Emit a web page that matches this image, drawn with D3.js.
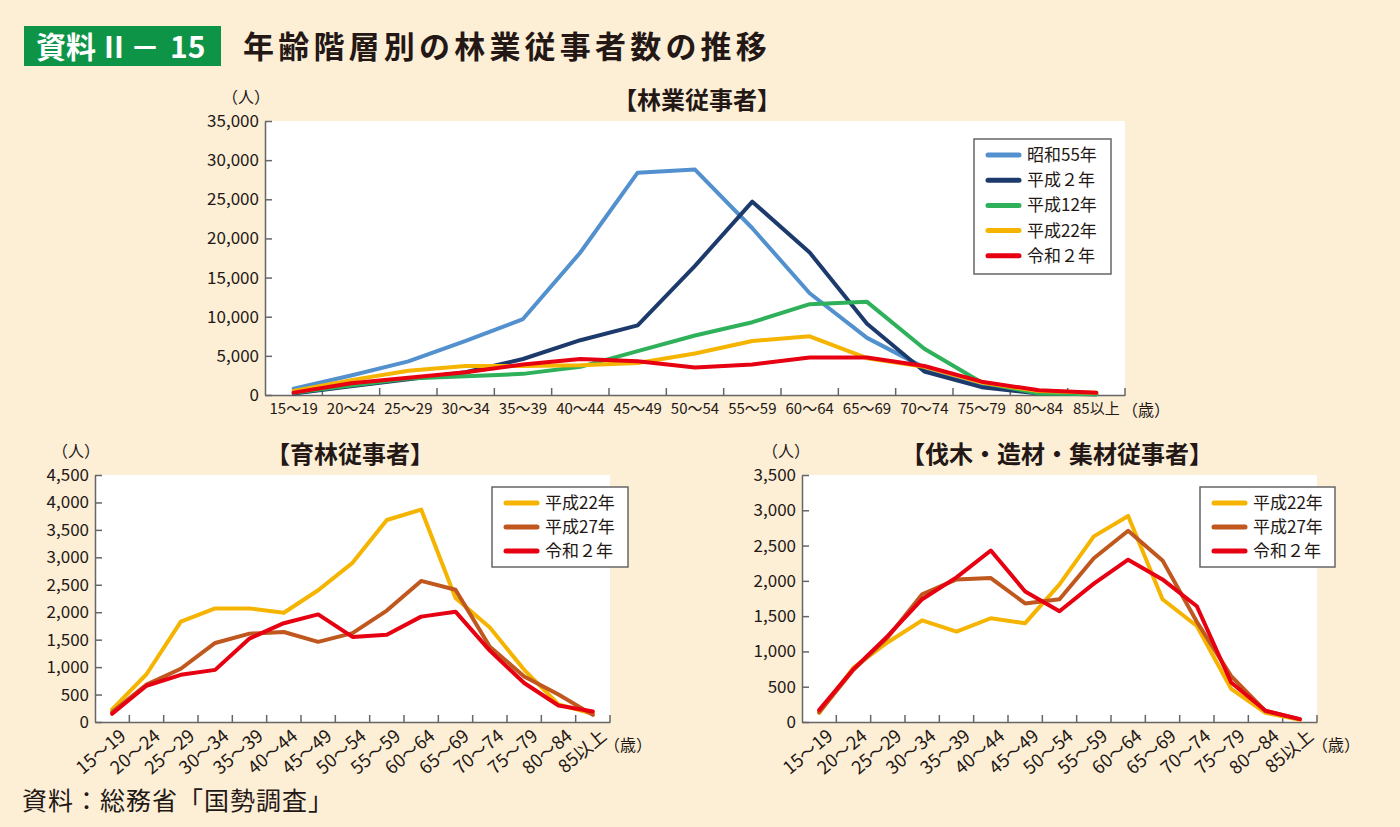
<!DOCTYPE html>
<html><head><meta charset="utf-8">
<script src="https://cdn.jsdelivr.net/npm/d3@7"></script>
<style>
html,body{margin:0;padding:0;background:#fdeed6;}
svg{display:block;font-family:"Noto Sans CJK JP","Noto Sans",sans-serif;}
</style></head>
<body><svg id="c" width="1400" height="827"></svg>
<script>
// ---- data ----
const ages = ["15～19","20～24","25～29","30～34","35～39","40～44","45～49","50～54","55～59","60～64","65～69","70～74","75～79","80～84","85以上"];
const yTicksTop = [0,5000,10000,15000,20000,25000,30000,35000];
const yTicksIkurin = [0,500,1000,1500,2000,2500,3000,3500,4000,4500];
const yTicksBatsu = [0,500,1000,1500,2000,2500,3000,3500];

// 林業従事者
const topS55 = [800,2500,4300,6900,9700,18200,28400,28800,21300,13000,7300,3500,1100,300,100];
const topH2  = [200,1100,2000,2900,4600,7000,8900,16500,24700,18200,9100,3000,1000,200,100];
const topH12 = [300,1200,2100,2400,2700,3600,5600,7600,9300,11600,11900,5900,1600,200,100];
const topH22 = [500,1900,3100,3700,3700,3800,4100,5300,6900,7500,4700,3600,1600,500,300];
const topR2  = [300,1500,2200,2900,3900,4600,4300,3500,3900,4800,4800,3700,1700,600,300];

// 育林従事者
const ikuH22 = [230,870,1830,2070,2070,1990,2400,2900,3680,3870,2260,1720,950,320,150];
const ikuH27 = [180,680,970,1440,1610,1640,1460,1620,2030,2570,2410,1370,830,500,130];
const ikuR2  = [150,660,860,950,1520,1800,1960,1550,1590,1920,2010,1300,710,300,190];

// 伐木・造材・集材従事者
const batH22 = [130,770,1130,1440,1280,1470,1400,1950,2630,2920,1740,1360,470,130,30];
const batH27 = [140,740,1200,1810,2020,2040,1680,1740,2320,2710,2290,1420,650,155,40];
const batR2  = [170,750,1220,1740,2050,2430,1850,1570,1960,2300,2020,1640,560,160,40];

const seriesTop = [
  {name:"昭和55年", values:topS55, color:"#5291cd"},
  {name:"平成２年", values:topH2,  color:"#1d3a6c"},
  {name:"平成12年", values:topH12, color:"#2fb05a"},
  {name:"平成22年", values:topH22, color:"#f5b400"},
  {name:"令和２年", values:topR2,  color:"#e60012"}
];
const seriesIku = [
  {name:"平成22年", values:ikuH22, color:"#f5b400"},
  {name:"平成27年", values:ikuH27, color:"#c0571e"},
  {name:"令和２年", values:ikuR2,  color:"#e60012"}
];
const seriesBat = [
  {name:"平成22年", values:batH22, color:"#f5b400"},
  {name:"平成27年", values:batH27, color:"#c0571e"},
  {name:"令和２年", values:batR2,  color:"#e60012"}
];

// ---- drawing ----
const svg = d3.select("#c");
const TXT = "#231815";
svg.append("rect").attr("width",1400).attr("height",827).attr("fill","#fdeed6");

// header
svg.append("rect").attr("x",24).attr("y",26).attr("width",197).attr("height",40).attr("fill","#0e9446");
const hd = svg.append("text").attr("y",58).attr("fill","#fff").attr("font-size",30).attr("font-weight","bold");
hd.append("tspan").attr("x",36).text("資料");
hd.append("tspan").attr("x",104).text("II");
hd.append("tspan").attr("x",130).text("－");
hd.append("tspan").attr("x",170).text("15");
svg.append("text").attr("x",243).attr("y",58).attr("fill",TXT).attr("font-size",31).attr("font-weight","bold")
  .attr("letter-spacing",4.2).text("年齢階層別の林業従事者数の推移");

svg.append("text").attr("x",22).attr("y",810).attr("fill",TXT).attr("font-size",25).attr("letter-spacing",1)
  .text("資料：総務省「国勢調査」");

function panel(cfg){
  const g = svg.append("g");
  const x = d3.scaleBand().domain(ages).range([cfg.x0,cfg.x1]);
  const y = d3.scaleLinear().domain([0,cfg.max]).range([cfg.yb,cfg.yt]);
  g.append("rect").attr("x",cfg.x0).attr("y",cfg.yt).attr("width",cfg.x1-cfg.x0).attr("height",cfg.yb-cfg.yt).attr("fill","#fff");

  // y axis
  const ya = g.append("g").attr("transform",`translate(${cfg.x0},0)`)
    .call(d3.axisLeft(y).tickValues(cfg.ticks).tickFormat(d3.format(",")).tickSize(-7).tickPadding(6).tickSizeOuter(0));
  ya.select(".domain").attr("stroke","#666").attr("stroke-width",1.5);
  ya.selectAll(".tick line").attr("stroke","#666").attr("stroke-width",1.5);
  ya.selectAll(".tick text").attr("font-size",17).attr("fill",TXT).attr("font-family","'Noto Sans CJK JP',sans-serif");

  // x axis
  const xa = g.append("g").attr("transform",`translate(0,${cfg.yb})`)
    .call(d3.axisBottom(x).tickSize(0).tickPadding(8).tickSizeOuter(0));
  xa.select(".domain").attr("stroke","#666").attr("stroke-width",1.5);
  const bounds = ages.map(a=>x(a)).concat([cfg.x1]).slice(1);
  xa.selectAll(".bnd").data(bounds).enter().append("line").attr("class","bnd")
    .attr("x1",d=>d).attr("x2",d=>d).attr("y1",0).attr("y2",-7).attr("stroke","#666").attr("stroke-width",1.5);
  const lbl = xa.selectAll(".tick text").attr("fill",TXT).attr("font-size",cfg.rot?18:15).attr("font-family","'Noto Sans CJK JP',sans-serif");
  if(cfg.rot){
    lbl.attr("text-anchor","end").attr("dy",0).attr("y",0)
      .attr("transform","translate(15,16) rotate(-40)");
  }

  // lines
  const line = d3.line().x((d,i)=>x(ages[i])+x.bandwidth()/2).y(d=>y(d));
  cfg.series.forEach(s=>{
    g.append("path").datum(s.values).attr("d",line).attr("fill","none")
      .attr("stroke",s.color).attr("stroke-width",cfg.sw).attr("stroke-linejoin","round").attr("stroke-linecap","round");
  });

  // legend
  const L = cfg.leg;
  g.append("rect").attr("x",L.x).attr("y",L.y).attr("width",L.w).attr("height",L.h)
    .attr("fill","#fff").attr("stroke","#666").attr("stroke-width",1.5);
  cfg.series.forEach((s,i)=>{
    const yy = L.y + L.first + i*L.step;
    g.append("line").attr("x1",L.x+14).attr("x2",L.x+45).attr("y1",yy).attr("y2",yy)
      .attr("stroke",s.color).attr("stroke-width",5).attr("stroke-linecap","round");
    g.append("text").attr("x",L.x+53).attr("y",yy).attr("dy","0.35em").attr("font-size",17).attr("fill",TXT).text(s.name);
  });

  // labels
  g.append("text").attr("x",cfg.unitX).attr("y",cfg.yt-18).attr("font-size",16).attr("fill",TXT).attr("text-anchor","middle").text("（人）");
  g.append("text").attr("x",cfg.titleX).attr("y",cfg.yt-12).attr("font-size",24).attr("font-weight","bold").attr("fill",TXT).attr("text-anchor","middle").text(cfg.title);
  g.append("text").attr("x",cfg.ageX).attr("y",cfg.ageY).attr("font-size",16).attr("fill",TXT).text("（歳）");
}

panel({x0:265,x1:1125,yt:121,yb:395,max:35000,ticks:yTicksTop,series:seriesTop,sw:4,rot:false,
  leg:{x:974,y:139,w:137,h:135,first:16,step:25.2},
  unitX:246,titleX:697,title:"【林業従事者】",ageX:1122,ageY:416});
panel({x0:95,x1:610,yt:475,yb:722,max:4500,ticks:yTicksIkurin,series:seriesIku,sw:4,rot:true,
  leg:{x:492,y:487,w:136,h:80,first:16,step:24},
  unitX:76,titleX:350,title:"【育林従事者】",ageX:604,ageY:751});
panel({x0:802,x1:1317,yt:475,yb:722,max:3500,ticks:yTicksBatsu,series:seriesBat,sw:4,rot:true,
  leg:{x:1200,y:487,w:135,h:80,first:16,step:24},
  unitX:786,titleX:1057,title:"【伐木・造材・集材従事者】",ageX:1312,ageY:751});
</script></body></html>
